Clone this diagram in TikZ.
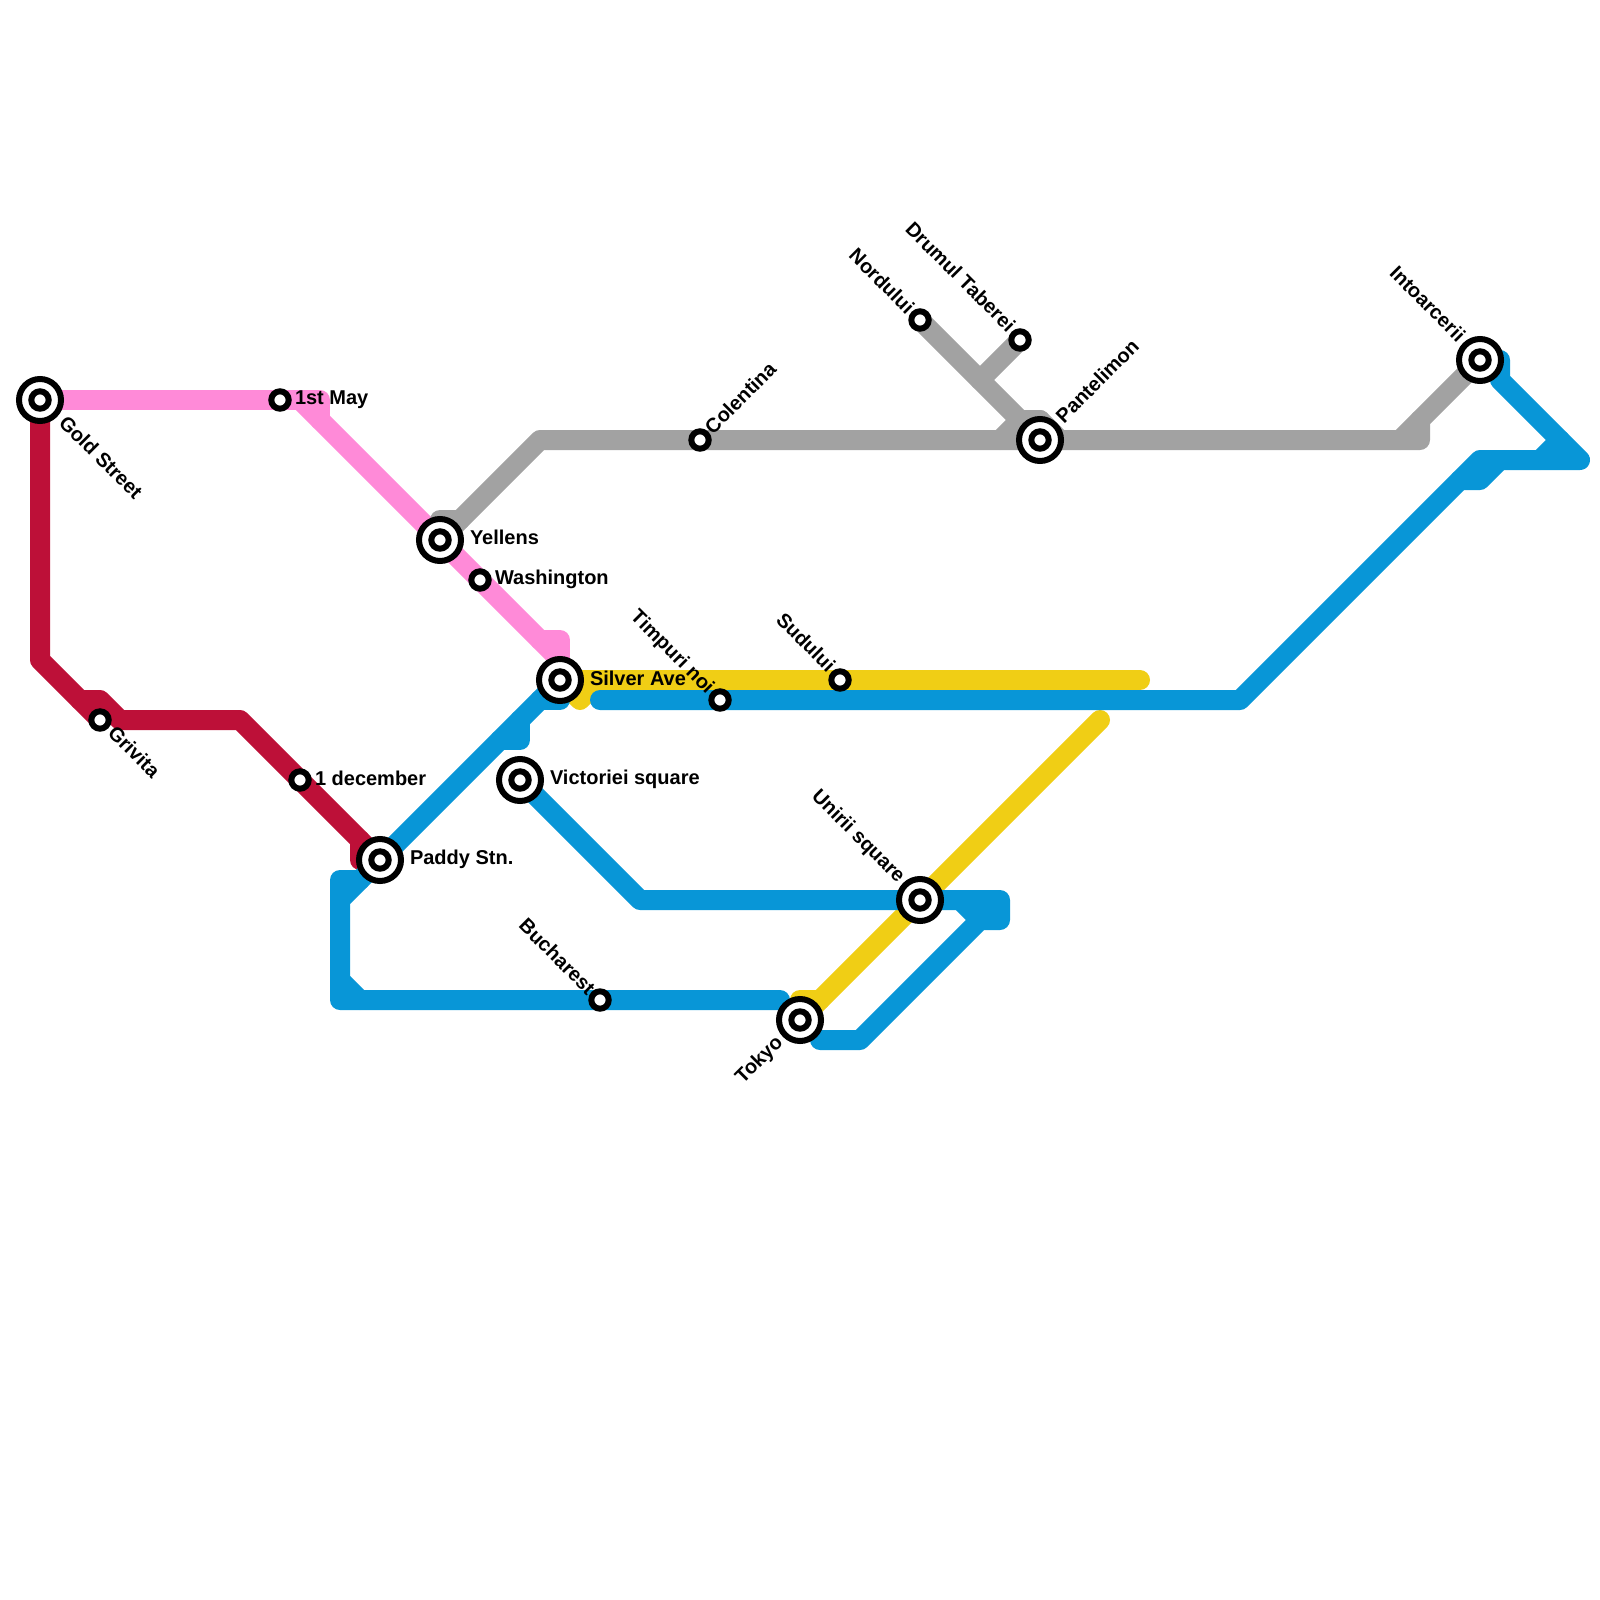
\documentclass[tikz,border=0pt]{standalone}
\usepackage{fontspec}
\setmainfont{Liberation Sans}
\definecolor{cRed}{HTML}{BD1038}
\definecolor{cPink}{HTML}{FF8AD8}
\definecolor{cGray}{HTML}{A2A2A2}
\definecolor{cYellow}{HTML}{F0CE15}
\definecolor{cBlue}{HTML}{0896D7}
\tikzset{
  metro/.style={line width=20pt,line cap=round,line join=round},
  hub/.style={circle,draw=black,line width=6pt,fill=white,minimum size=42pt,inner sep=0pt,outer sep=0pt,
    path picture={\draw[black,line width=6pt] (path picture bounding box.center) circle[radius=8.7pt];}},
  stop/.style={circle,draw=black,line width=6pt,fill=white,minimum size=17.4pt,inner sep=0pt,outer sep=0pt},
  lbl/.style={font=\fontsize{20pt}{22pt}\selectfont\bfseries,text=black,inner sep=0pt,outer sep=0pt},
  lblW/.style={lbl,anchor=west},
  lblDW/.style={lbl,anchor=west,rotate=-45},
  lblDE/.style={lbl,anchor=east,rotate=-45},
  lblUW/.style={lbl,anchor=west,rotate=45},
  lblUE/.style={lbl,anchor=east,rotate=45}
}
\begin{document}
\begin{tikzpicture}[x=1pt,y=-1pt]
\useasboundingbox (0,0) rectangle (1600,1600);
% stations
\coordinate (gold) at (40,400);
\coordinate (may) at (280,400);
\coordinate (yell) at (440,540);
\coordinate (wash) at (480,580);
\coordinate (silv) at (560,680);
\coordinate (grv) at (100,720);
\coordinate (dec) at (300,780);
\coordinate (pad) at (380,860);
\coordinate (vic) at (520,780);
\coordinate (tim) at (720,700);
\coordinate (sud) at (840,680);
\coordinate (col) at (700,440);
\coordinate (nor) at (920,320);
\coordinate (dru) at (1020,340);
\coordinate (pan) at (1040,440);
\coordinate (int) at (1480,360);
\coordinate (buc) at (600,1000);
\coordinate (uni) at (920,900);
\coordinate (tok) at (800,1020);
% red
\draw[metro,cRed] (gold) -- (40,660) -- (grv);
\coordinate (r1) at (80,700);
\draw[metro,cRed] (r1) -- (100,700) -- (120,720) -- (240,720) -- (pad);
\coordinate (r2) at (360,840);
\draw[metro,cRed] (r2) -- (360,860) -- (pad);
% pink
\coordinate (p1) at (300,400);
\coordinate (p2) at (540,640);
\coordinate (p3) at (560,660);
\draw[metro,cPink] (gold) -- (320,400) -- (320,420);
\draw[metro,cPink] (p1) -- (p3);
\draw[metro,cPink] (p2) -- (560,640) -- (silv);
% gray
\draw[metro,cGray] (yell) -- (540,440) -- (1420,440) -- (1420,420) -- (int);
\coordinate (g1) at (440,520);
\coordinate (g2) at (460,520);
\draw[metro,cGray] (g1) -- (g2);
\coordinate (g3) at (1400,440);
\coordinate (g4) at (1420,420);
\draw[metro,cGray] (g3) -- (g4);
\draw[metro,cGray] (nor) -- (1020,420) -- (1040,420) -- (pan);
\coordinate (g5) at (980,380);
\draw[metro,cGray] (dru) -- (g5);
\coordinate (g6) at (1000,440);
\coordinate (g7) at (1020,420);
\draw[metro,cGray] (g6) -- (g7);
\coordinate (g8) at (1040,420);
\coordinate (g9) at (1060,440);
\draw[metro,cGray] (g8) -- (g9);
% yellow
\coordinate (y1) at (1140,680);
\draw[metro,cYellow] (silv) -- (y1);
\coordinate (y2) at (580,700);
\coordinate (y3) at (600,680);
\draw[metro,cYellow] (silv) -- (y2) -- (y3);
\coordinate (y4) at (1100,720);
\draw[metro,cYellow] (tok) -- (y4);
\coordinate (y5) at (800,1000);
\coordinate (y6) at (820,1000);
\draw[metro,cYellow] (y5) -- (y6);
% blue
\draw[metro,cBlue] (pad) -- (silv);
\coordinate (b1) at (540,700);
\coordinate (b2) at (560,700);
\draw[metro,cBlue] (b1) -- (b2);
\coordinate (b3) at (520,720);
\coordinate (b4) at (500,740);
\draw[metro,cBlue] (b3) -- (520,740) -- (b4);
\coordinate (b17) at (820,1040);
\draw[metro,cBlue] (vic) -- (640,900) -- (1000,900) -- (1000,920) -- (980,920) -- (860,1040) -- (b17);
\coordinate (b5) at (960,900);
\coordinate (b6) at (980,920);
\draw[metro,cBlue] (b5) -- (b6);
\coordinate (b18) at (780,1000);
\draw[metro,cBlue] (pad) -- (340,900) -- (340,1000) -- (b18);
\coordinate (b7) at (340,880);
\coordinate (b8) at (360,880);
\coordinate (b9) at (340,900);
\draw[metro,cBlue] (b9) -- (b7) -- (b8);
\coordinate (b10) at (340,980);
\coordinate (b11) at (360,1000);
\draw[metro,cBlue] (b10) -- (b11);
\coordinate (b12) at (600,700);
\draw[metro,cBlue] (b12) -- (1240,700) -- (1480,460) -- (1580,460) -- (1500,380) -- (1500,360) -- (int);
\coordinate (b13) at (1460,480);
\coordinate (b14) at (1500,460);
\draw[metro,cBlue] (b13) -- (1480,480) -- (b14);
\coordinate (b15) at (1560,440);
\coordinate (b16) at (1540,460);
\draw[metro,cBlue] (b15) -- (b16);
% station marks
\node[hub] (nGold) at (gold) {};
\node[stop] (nMay) at (may) {};
\node[hub] (nYell) at (yell) {};
\node[stop] (nWash) at (wash) {};
\node[hub] (nSilv) at (silv) {};
\node[stop] (nGrv) at (grv) {};
\node[stop] (nDec) at (dec) {};
\node[hub] (nPad) at (pad) {};
\node[hub] (nVic) at (vic) {};
\node[stop] (nTim) at (tim) {};
\node[stop] (nSud) at (sud) {};
\node[stop] (nCol) at (col) {};
\node[stop] (nNor) at (nor) {};
\node[stop] (nDru) at (dru) {};
\node[hub] (nPan) at (pan) {};
\node[hub] (nInt) at (int) {};
\node[stop] (nBuc) at (buc) {};
\node[hub] (nUni) at (uni) {};
\node[hub] (nTok) at (tok) {};
% labels
\node[lblDW] (tGold) at (63,419) {Gold Street};
\node[lblW] (tMay) at (295,399.5) {1st May};
\node[lblW] (tYell) at (470,537.5) {Yellens};
\node[lblW] (tWash) at (495,579) {Washington};
\node[lblW] (tSilv) at (590,678) {Silver Ave};
\node[lblDW] (tGrv) at (112,729) {Grivita};
\node[lblW] (tDec) at (315,778) {1 december};
\node[lblW] (tPad) at (410,859) {Paddy Stn.};
\node[lblW] (tVic) at (550,779) {Victoriei square};
\node[lblDE] (tTim) at (710,691) {Timpuri noi};
\node[lblDE] (tSud) at (832,668) {Sudului};
\node[lblUW] (tCol) at (708,430) {Colentina};
\node[lblDE] (tNor) at (911,310) {Nordului};
\node[lblDE] (tDru) at (1012,328) {Drumul Taberei};
\node[lblUW] (tPan) at (1059,419) {Pantelimon};
\node[lblDE] (tInt) at (1462,338) {Intoarcerii};
\node[lblDE] (tBuc) at (592,991) {Bucharest};
\node[lblDE] (tUni) at (901,880) {Unirii square};
\node[lblUE] (tTok) at (780,1040) {Tokyo};
\end{tikzpicture}
\end{document}
